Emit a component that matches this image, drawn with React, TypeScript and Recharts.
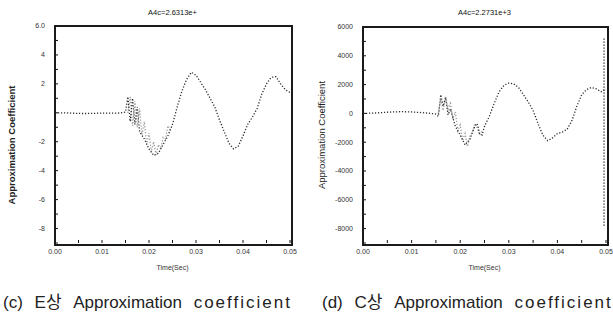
import React from 'react';
import { LineChart, Line, XAxis, YAxis } from 'recharts';

// E phase (left panel)
const eTime = [0, 0.002, 0.004, 0.006, 0.008, 0.01, 0.012, 0.014, 0.015, 0.0155, 0.016, 0.0165, 0.017, 0.0175, 0.018, 0.019, 0.02, 0.021, 0.022, 0.023, 0.024, 0.025, 0.026, 0.027, 0.028, 0.029, 0.03, 0.031, 0.032, 0.033, 0.034, 0.035, 0.036, 0.037, 0.038, 0.039, 0.04, 0.041, 0.042, 0.043, 0.044, 0.045, 0.046, 0.047, 0.048, 0.049, 0.05];
const eCoef = [0, 0, -30, -50, -40, -20, -30, -10, 50, 1100, -600, 1000, -800, 400, -1300, -1800, -2500, -2950, -2800, -2200, -1600, -800, 400, 1500, 2300, 2800, 2600, 2100, 1600, 1000, 400, -500, -1300, -2100, -2500, -2300, -1600, -800, -300, 300, 1300, 2000, 2450, 2500, 2000, 1600, 1400];
const eBurstTime = [0.0155, 0.016, 0.0165, 0.017, 0.0175, 0.018, 0.0185, 0.019, 0.0195, 0.02, 0.0205, 0.021, 0.0215, 0.022, 0.0225, 0.023, 0.0235, 0.024, 0.0245];
const eBurstCoef = [0, 1100, -900, 800, -1000, 300, -1500, -600, -2200, -1400, -2700, -2000, -2900, -2200, -2500, -1700, -1800, -900, -1200];

// C phase (right panel)
const cTime = [0, 0.002, 0.004, 0.006, 0.008, 0.01, 0.012, 0.014, 0.015, 0.0155, 0.016, 0.0165, 0.017, 0.0175, 0.018, 0.019, 0.02, 0.021, 0.022, 0.023, 0.0235, 0.024, 0.0245, 0.025, 0.026, 0.027, 0.028, 0.029, 0.03, 0.031, 0.032, 0.033, 0.034, 0.035, 0.036, 0.037, 0.038, 0.039, 0.04, 0.041, 0.042, 0.043, 0.044, 0.045, 0.046, 0.047, 0.048, 0.049, 0.05];
const cCoef = [0, 20, 60, 100, 120, 100, 60, 0, -50, -200, 1300, 500, 1100, -100, 300, -900, -1500, -2200, -1800, -900, -700, -1400, -1500, -900, -200, 700, 1500, 1950, 2100, 2050, 1800, 1300, 800, 200, -700, -1500, -1900, -1700, -1400, -1300, -1100, -500, 500, 1300, 1650, 1800, 1700, 1500, 1700];
const cBurstTime = [0.0155, 0.016, 0.0165, 0.017, 0.0175, 0.018, 0.0185, 0.019, 0.0195, 0.02, 0.0205, 0.021, 0.0215, 0.022, 0.0225, 0.023, 0.0235, 0.024, 0.0245];
const cBurstCoef = [0, 1000, 200, 1200, 300, 700, -400, 100, -1200, -800, -1900, -1400, -2300, -1600, -1300, -700, -1000, -1500, -1200];
const cEdgeTime = [0.0496, 0.0496, 0.0496, 0.0496, 0.0496, 0.0496, 0.0496, 0.0496];
const cEdgeCoef = [5200, 4000, 2000, 0, -2000, -4000, -6000, -7800];

const xTicks = [0, 0.005, 0.01, 0.015, 0.02, 0.025, 0.03, 0.035, 0.04, 0.045, 0.05];
const xLabels = ['0.00', '', '0.01', '', '0.02', '', '0.03', '', '0.04', '', '0.05'];
const yTicks = [6000, 5000, 4000, 3000, 2000, 1000, 0, -1000, -2000, -3000, -4000, -5000, -6000, -7000, -8000, -9000];
const yLabelsE = ['6.0', '', '4', '', '2', '', '', '', '-2', '', '-4', '', '-6', '', '-8', ''];
const yLabelsC = ['6000', '', '4000', '', '2000', '', '0', '', '-2000', '', '-4000', '', '-6000', '', '-8000', ''];

const zip = (t: number[], v: number[]) => t.map((x, i) => ({ t: x, v: v[i] }));

const tickStyle = { fontSize: 7, fill: '#333', fontFamily: 'Liberation Sans, Arial, sans-serif' };
const tickLineStyle = { stroke: '#111', strokeWidth: 1 };

type PanelProps = {
  left: number;
  width: number;
  plotLeft: number;
  marginRight: number;
  top: number;
  title: string;
  yLabels: string[];
  labelX: number;
  labelY: number;
  labelWeight: string;
  series: { t: number; v: number }[][];
  colors: string[];
};

const PLOT_BOTTOM = 243;

const Panel: React.FC<PanelProps> = (p) => {
  const xFmt = (v: number) => xLabels[xTicks.findIndex((x) => Math.abs(x - v) < 1e-9)] ?? '';
  const yFmt = (v: number) => p.yLabels[yTicks.indexOf(v)] ?? '';
  const plotRight = p.width - p.marginRight - 1;
  const plotCenter = p.plotLeft + (plotRight - p.plotLeft) / 2;
  return (
    <div style={{ position: 'absolute', left: p.left, top: 0, width: p.width, height: 285 }}>
      <LineChart width={p.width} height={285} margin={{ top: p.top - 1, right: p.marginRight, bottom: 0, left: 0 }}>
        <XAxis xAxisId="b" dataKey="t" type="number" domain={[0, 0.05]} ticks={xTicks} tickFormatter={xFmt}
          height={42} tickSize={-3} tickMargin={9} axisLine={false} tickLine={tickLineStyle} tick={tickStyle}
          label={{ value: 'Time(Sec)', position: 'insideTop', offset: 22, style: { ...tickStyle, fontSize: 7 } }} />
        <XAxis xAxisId="t" orientation="top" dataKey="t" type="number" domain={[0, 0.05]} ticks={xTicks} tickFormatter={() => ''}
          height={1} tickSize={-3} axisLine={false} tickLine={tickLineStyle}
          label={{
            content: () => (
              <text x={plotCenter} y={15} textAnchor="middle" fontSize={7.5} fill="#111"
                fontFamily="Liberation Sans, Arial, sans-serif">
                {p.title}
              </text>
            ),
          }} />
        <YAxis yAxisId="l" type="number" domain={[-9000, 6000]} ticks={yTicks} tickFormatter={yFmt} width={p.plotLeft}
          tickSize={-3} tickMargin={13} axisLine={false} tickLine={tickLineStyle} tick={tickStyle}
          label={{
            content: () => (
              <text x={p.labelX} y={p.labelY} transform={`rotate(-90 ${p.labelX} ${p.labelY})`} textAnchor="middle"
                fontSize={9.5} fontWeight={p.labelWeight} fill="#222" fontFamily="Liberation Sans, Arial, sans-serif">
                Approximation Coefficient
              </text>
            ),
          }} />
        <YAxis yAxisId="r" orientation="right" type="number" domain={[-9000, 6000]} ticks={yTicks} tickFormatter={() => ''}
          width={1} tickSize={-3} axisLine={false} tickLine={tickLineStyle} />
        {p.series.map((d, i) => (
          <Line key={i} xAxisId="b" yAxisId="l" data={d} dataKey="v" type="linear" stroke={p.colors[i]}
            strokeWidth={1.3} strokeDasharray="1.2 1.8" dot={false} isAnimationActive={false} />
        ))}
      </LineChart>
      {/* plot frame */}
      <div style={{
        position: 'absolute', left: p.plotLeft - 1, top: p.top - 1, width: plotRight - p.plotLeft,
        height: PLOT_BOTTOM - p.top, border: '2px solid #1a1a1a', pointerEvents: 'none',
      }} />
    </div>
  );
};

const captionStyle: React.CSSProperties = {
  position: 'absolute',
  top: 294,
  fontSize: 17,
  lineHeight: '17px',
  fontFamily: "'Liberation Sans', Arial, 'Noto Sans CJK KR', sans-serif",
  color: '#222',
  whiteSpace: 'pre',
  wordSpacing: 7,
};

export default function App() {
  return (
    <div style={{ position: 'absolute', left: 0, top: 0, width: 613, height: 322, background: '#fff', overflow: 'hidden' }}>
      <Panel left={0} width={300} plotLeft={55} marginRight={9} top={26} title="A4c=2.6313e+"
        yLabels={yLabelsE} labelX={15} labelY={145} labelWeight="bold"
        series={[zip(eBurstTime, eBurstCoef), zip(eTime, eCoef)]} colors={['#9a9a9a', '#2a2a2a']} />
      <Panel left={300} width={313} plotLeft={63} marginRight={6} top={27} title="A4c=2.2731e+3"
        yLabels={yLabelsC} labelX={25} labelY={135} labelWeight="normal"
        series={[zip(cBurstTime, cBurstCoef), zip(cTime, cCoef), zip(cEdgeTime, cEdgeCoef)]}
        colors={['#9a9a9a', '#2a2a2a', '#2a2a2a']} />
      <div style={{ ...captionStyle, left: 3 }}>(c) E상 Approximation <span style={{ letterSpacing: 2 }}>coefficient</span></div>
      <div style={{ ...captionStyle, left: 322 }}>(d) C상 Approximation <span style={{ letterSpacing: 2 }}>coefficient</span></div>
    </div>
  );
}
